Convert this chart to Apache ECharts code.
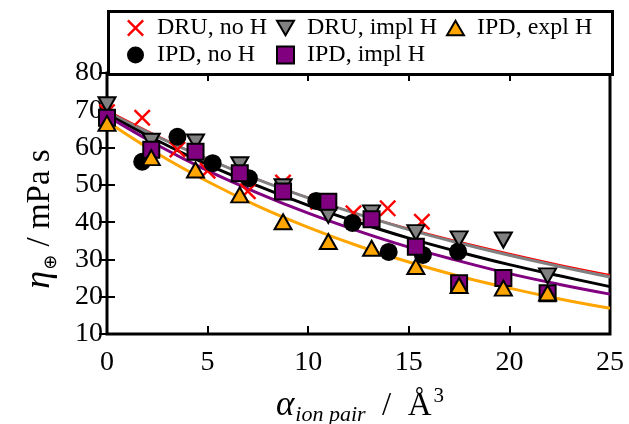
<!DOCTYPE html>
<html><head><meta charset="utf-8">
<script src="https://cdn.jsdelivr.net/npm/echarts@6/dist/echarts.min.js"></script>
<style>html,body{margin:0;padding:0;background:#fff}#c{width:629px;height:424px}</style>
</head><body><div id="c"></div>
<script>
// ---- data ----
const xTicks = [0, 5, 10, 15, 20, 25];
const yTicks = [10, 20, 30, 40, 50, 60, 70, 80];

const seriesNames = ['DRU, no H', 'DRU, impl H', 'IPD, expl H', 'IPD, no H', 'IPD, impl H'];
const xTitle = ['α', 'ion pair', '  /  Å', '3'];
const yTitle = ['η', '⊕', ' / mPa s'];

const druNoH_x = [0, 1.75, 3.5, 5.0, 7.0, 8.75, 10.5, 12.25, 13.95, 15.65];
const druNoH_y = [69.5, 68.0, 59.5, 53.8, 48.3, 50.6, 45.5, 42.4, 43.7, 40.1];

const ipdNoH_x = [0, 1.75, 3.5, 5.25, 7.05, 8.75, 10.4, 12.2, 14.0, 15.7, 17.45];
const ipdNoH_y = [68.0, 56.2, 62.9, 55.8, 51.8, 48.5, 45.7, 39.8, 32.0, 31.2, 32.1];

const druImplH_x = [0, 2.2, 4.4, 6.6, 8.75, 11.0, 13.15, 15.35, 17.5, 19.7, 21.9];
const druImplH_y = [71.5, 61.7, 61.5, 55.4, 49.5, 41.8, 42.5, 37.2, 35.5, 35.2, 25.6];

const ipdImplH_x = [0, 2.2, 4.4, 6.6, 8.75, 11.0, 13.15, 15.35, 17.5, 19.7, 21.9];
const ipdImplH_y = [68.0, 59.4, 58.9, 53.1, 48.2, 45.5, 40.8, 33.4, 23.6, 25.0, 20.9];

const ipdExplH_x = [0, 2.2, 4.4, 6.6, 8.75, 11.0, 13.15, 15.35, 17.5, 19.7, 21.9];
const ipdExplH_y = [66.5, 57.3, 54.0, 47.3, 40.1, 34.8, 33.0, 28.1, 23.0, 22.3, 21.0];

// fitted curves
const fitX = [0, 2.5, 5, 7.5, 10, 12.5, 15, 17.5, 20, 22.5, 25];
const fitDruNoH   = [70.0, 63.2, 57.0, 51.5, 46.6, 42.2, 38.3, 34.8, 31.6, 28.6, 25.9];
const fitDruImplH = [69.5, 62.9, 56.9, 51.4, 46.5, 42.1, 38.0, 34.4, 31.1, 28.1, 25.3];
const fitIpdNoH   = [69.0, 61.9, 55.4, 49.7, 44.5, 39.9, 35.7, 32.0, 28.6, 25.6, 22.7];
const fitIpdImplH = [68.5, 60.7, 53.8, 47.8, 42.4, 37.6, 33.3, 29.6, 26.2, 23.3, 20.7];
const fitIpdExplH = [67.0, 58.4, 50.9, 44.3, 38.6, 33.6, 29.3, 25.5, 22.3, 19.4, 16.9];

// ---- build ----
const zip = (a, b) => a.map((v, i) => [v, b[i]]);
const FONT = 'Liberation Serif';
const crossPath = 'path://M0,1.4L1.4,0L7,5.6L12.6,0L14,1.4L8.4,7L14,12.6L12.6,14L7,8.4L1.4,14L0,12.6L5.6,7Z';
const downTri = 'path://M0,0L20,0L10,17.3Z';
const upTri = 'path://M10,0L20,17.3L0,17.3Z';

function fitLine(data, color, w, z) {
  return { type: 'line', data: zip(fitX, data), showSymbol: false, symbol: 'none', smooth: 0.4,
    lineStyle: { color: color, width: w }, z: z, silent: true, xAxisIndex: 0, yAxisIndex: 0 };
}

const chart = echarts.init(document.getElementById('c'), null, { renderer: 'canvas' });
const legendText = { fontFamily: FONT, fontSize: 24, color: '#000', padding: [0, 0, 0, 8] };
const legendCommon = { orient: 'vertical', top: 16, itemGap: 3, padding: 0, itemWidth: 17, itemHeight: 17,
  textStyle: legendText, selectedMode: false, z: 10, itemStyle: { opacity: 1 } };

const tickStyle = { inside: true, length: 8, lineStyle: { color: '#000', width: 2 } };

chart.setOption({
  animation: false,
  backgroundColor: '#fff',
  graphic: [
    { type: 'rect', left: 107, top: 10, shape: { width: 504, height: 63 },
      style: { fill: '#fff', stroke: '#000', lineWidth: 3 }, z: 1 },
    { type: 'text', x: 360, y: 406, z: 5,
      style: { text: '{a|' + xTitle[0] + '}{s|' + xTitle[1] + '}{b|' + xTitle[2] + '}{p|' + xTitle[3] + '}',
        align: 'center', verticalAlign: 'middle',
        rich: {
          a: { fontFamily: FONT, fontStyle: 'italic', fontSize: 35, fill: '#000', lineHeight: 40 },
          s: { fontFamily: FONT, fontStyle: 'italic', fontSize: 22, fill: '#000', verticalAlign: 'bottom', padding: [14, 0, 0, 1] },
          b: { fontFamily: FONT, fontSize: 33, fill: '#000' },
          p: { fontFamily: FONT, fontSize: 21, fill: '#000', verticalAlign: 'top', padding: [0, 0, 16, 2] } } } },
    { type: 'text', x: 40, y: 219, rotation: Math.PI / 2, z: 5,
      style: { text: '{a|' + yTitle[0] + '}{s|' + yTitle[1] + '}{b|' + yTitle[2] + '}',
        align: 'center', verticalAlign: 'middle',
        rich: {
          a: { fontFamily: FONT, fontStyle: 'italic', fontSize: 36, fill: '#000', lineHeight: 40 },
          s: { fontFamily: 'DejaVu Sans', fontSize: 18, fill: '#000', verticalAlign: 'bottom', padding: [14, 0, 0, 1] },
          b: { fontFamily: FONT, fontSize: 33, fill: '#000' } } } }
  ],
  legend: [
    Object.assign({}, legendCommon, { left: 127, data: [seriesNames[0], seriesNames[3]] }),
    Object.assign({}, legendCommon, { left: 276, data: [seriesNames[1], seriesNames[4]] }),
    Object.assign({}, legendCommon, { left: 446, data: [seriesNames[2]] })
  ],
  grid: { left: 107, top: 73, width: 503, height: 261, show: true, borderColor: '#000', borderWidth: 3,
    backgroundColor: 'transparent', containLabel: false },
  xAxis: [
    { type: 'value', min: xTicks[0], max: xTicks[xTicks.length - 1], interval: 5,
      axisLine: { show: false }, splitLine: { show: false }, axisTick: tickStyle,
      axisLabel: { fontFamily: FONT, fontSize: 28, color: '#000', margin: 15 } },
    { type: 'value', position: 'top', min: 0, max: 25, interval: 5,
      axisLine: { show: false }, splitLine: { show: false }, axisLabel: { show: false }, axisTick: tickStyle }
  ],
  yAxis: [
    { type: 'value', min: yTicks[0], max: yTicks[yTicks.length - 1], interval: 10,
      axisLine: { show: false }, splitLine: { show: false }, axisTick: tickStyle,
      axisLabel: { fontFamily: FONT, fontSize: 28, color: '#000', margin: 4 } },
    { type: 'value', position: 'right', min: 10, max: 80, interval: 10,
      axisLine: { show: false }, splitLine: { show: false }, axisLabel: { show: false }, axisTick: tickStyle }
  ],
  series: [
    fitLine(fitDruNoH, '#ff0000', 1.5, 2),
    fitLine(fitDruImplH, '#808080', 3, 2),
    fitLine(fitIpdNoH, '#000000', 3, 2),
    fitLine(fitIpdImplH, '#800080', 3, 2),
    fitLine(fitIpdExplH, '#ffa500', 3, 2),
    { name: seriesNames[0], type: 'scatter', data: zip(druNoH_x, druNoH_y), symbol: crossPath, symbolSize: 17,
      itemStyle: { color: '#ff0000', borderWidth: 0, opacity: 1 }, z: 3, clip: false },
    { name: seriesNames[3], type: 'scatter', data: zip(ipdNoH_x, ipdNoH_y), symbol: 'circle', symbolSize: 18,
      itemStyle: { color: '#000000', opacity: 1 }, z: 4, clip: false },
    { name: seriesNames[1], type: 'scatter', data: zip(druImplH_x, druImplH_y), symbol: downTri, symbolSize: [17, 15],
      itemStyle: { color: '#808080', borderColor: '#000', borderWidth: 2, opacity: 1 }, z: 5, clip: false },
    { name: seriesNames[4], type: 'scatter', data: zip(ipdImplH_x, ipdImplH_y), symbol: 'rect', symbolSize: 16,
      itemStyle: { color: '#800080', borderColor: '#000', borderWidth: 2, opacity: 1 }, z: 6, clip: false },
    { name: seriesNames[2], type: 'scatter', data: zip(ipdExplH_x, ipdExplH_y), symbol: upTri, symbolSize: [17, 15],
      itemStyle: { color: '#ffa500', borderColor: '#000', borderWidth: 2, opacity: 1 }, z: 7, clip: false }
  ]
});
</script>
</body></html>
